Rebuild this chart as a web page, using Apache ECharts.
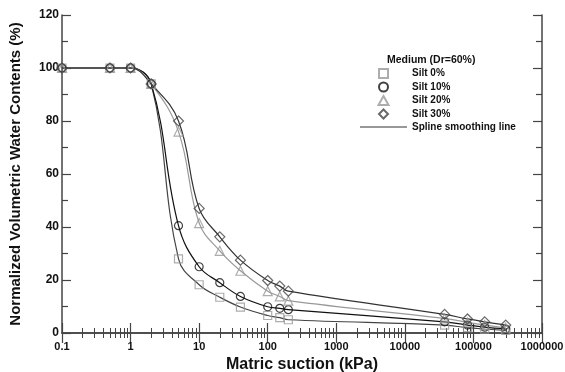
<!DOCTYPE html>
<html>
<head>
<meta charset="utf-8">
<script src="https://cdn.jsdelivr.net/npm/echarts@6/dist/echarts.min.js"></script>
<style>html,body{margin:0;padding:0;background:#fff}#c{width:565px;height:372px}</style>
</head>
<body>
<div id="c"></div>
<script>
var suction = [0.1, 0.5, 1, 2, 5, 10, 20, 40, 100, 150, 200, 38000, 82000, 146000, 296000];
var silt0  = [100, 100, 100, 94, 28, 18.2, 13.5, 9.8, 6.6, 5.8, 5.0, 3.0, 2.0, 1.5, 1.0];
var silt10 = [100, 100, 100, 94, 40.5, 25, 19, 13.8, 9.9, 9.3, 8.8, 4.2, 3.0, 2.2, 1.5];
var silt20 = [100, 100, 100, 94, 76, 41.5, 31, 23.5, 15.8, 13.8, 12.2, 5.5, 4.0, 3.0, 2.0];
var silt30 = [100, 100, 100, 94, 80, 47, 36.3, 27.5, 19.8, 17.7, 15.8, 7.0, 5.3, 4.2, 3.0];
var seriesNames = ['Silt 0%', 'Silt 10%', 'Silt 20%', 'Silt 30%'];
var lineName = 'Spline smoothing line';
var legendTitle = 'Medium (Dr=60%)';
var xTickLabels = ['0.1', '1', '10', '100', '1000', '10000', '100000', '1000000'];
var xTitle = 'Matric suction (kPa)';
var yTitle = 'Normalized Volumetric Water Contents (%)';

var allData = [silt0, silt10, silt20, silt30];
var symbols = ['rect', 'circle', 'triangle', 'diamond'];
var legendIcons = [
  'path://M0,0 L8,0 L8,8 L0,8 Z',
  'circle',
  'path://M5,0 L10,9 L0,9 Z',
  'path://M5,0 L10,5 L5,10 L0,5 Z'
];
var symSizes = [8, 8, 9, 10];
var markColors = ['#999999', '#111111', '#999999', '#444444'];
var lineColors = ['#444444', '#111111', '#999999', '#333333'];

function pairs(arr) { return suction.map(function (x, i) { return [x, arr[i]]; }); }

var series = [];
allData.forEach(function (arr, k) {
  series.push({
    name: lineName, type: 'line', data: pairs(arr), smooth: 0.4,
    symbol: 'none', lineStyle: { color: lineColors[k], width: 1.2 },
    itemStyle: { color: '#333' }, z: 2, silent: true
  });
});
allData.forEach(function (arr, k) {
  series.push({
    name: seriesNames[k], type: 'scatter', data: pairs(arr),
    symbol: symbols[k], symbolSize: symSizes[k],
    itemStyle: { color: 'transparent', borderColor: markColors[k], borderWidth: 1.2 }, z: 3
  });
});

var fontFam = '"Liberation Sans", Arial, sans-serif';
var axisLineStyle = { color: '#444', width: 1.5 };

function xAxisCfg(pos, showLabel) {
  return {
    type: 'log', logBase: 10, min: 0.1, max: 1000000, position: pos,
    axisLine: { show: true, lineStyle: axisLineStyle },
    axisTick: { show: true, inside: true, length: 10, lineStyle: { color: '#444', width: 1.2 } },
    minorTick: { show: true, splitNumber: 9, length: 5, lineStyle: { color: '#444', width: 1 } },
    splitLine: { show: false }, minorSplitLine: { show: false },
    axisLabel: {
      show: showLabel, color: '#111', fontSize: 11, fontWeight: 'bold', fontFamily: fontFam, margin: 8,
      formatter: function (v) { return xTickLabels[Math.round(Math.log10(v)) + 1]; }
    },
    name: showLabel ? xTitle : '', nameLocation: 'middle', nameGap: 18,
    nameTextStyle: { color: '#111', fontSize: 16, fontWeight: 'bold', fontFamily: fontFam }
  };
}
function yAxisCfg(pos, showLabel) {
  return {
    type: 'value', min: 0, max: 120, interval: 20, position: pos,
    axisLine: { show: true, lineStyle: axisLineStyle },
    axisTick: { show: true, inside: true, length: 9, lineStyle: { color: '#444', width: 1.2 } },
    minorTick: { show: true, splitNumber: 2, length: 6, lineStyle: { color: '#444', width: 1.2 } },
    splitLine: { show: false },
    axisLabel: { show: showLabel, color: '#111', fontSize: 12, fontWeight: 'bold', fontFamily: fontFam, margin: 3 },
    name: showLabel ? yTitle : '', nameLocation: 'middle', nameGap: 39,
    nameTextStyle: { color: '#111', fontSize: 15, fontWeight: 'bold', fontFamily: fontFam }
  };
}

var legendData = seriesNames.map(function (n, k) {
  return { name: n, icon: legendIcons[k] };
});
legendData.push({ name: lineName, icon: 'path://M0,0 L47,0 L47,1.2 L0,1.2 Z', itemStyle: { color: '#333' } });

var chart = echarts.init(document.getElementById('c'), null, { renderer: 'canvas' });
chart.setOption({
  animation: false,
  backgroundColor: '#fff',
  grid: { left: 62, right: 23, top: 15, bottom: 39, containLabel: false, outerBoundsMode: 'none' },
  title: {
    text: legendTitle, left: 382, top: 50,
    textStyle: { color: '#111', fontSize: 10.5, fontWeight: 'bold', fontFamily: fontFam }
  },
  legend: {
    orient: 'vertical', left: 355, top: 63, itemGap: 2.5, itemWidth: 47, itemHeight: 9,
    symbolKeepAspect: true,
    data: legendData,
    textStyle: { color: '#111', fontSize: 10, fontWeight: 'bold', fontFamily: fontFam },
    selectedMode: false
  },
  xAxis: [xAxisCfg('bottom', true), xAxisCfg('top', false)],
  yAxis: [yAxisCfg('left', true), yAxisCfg('right', false)],
  series: series
});
</script>
</body>
</html>
